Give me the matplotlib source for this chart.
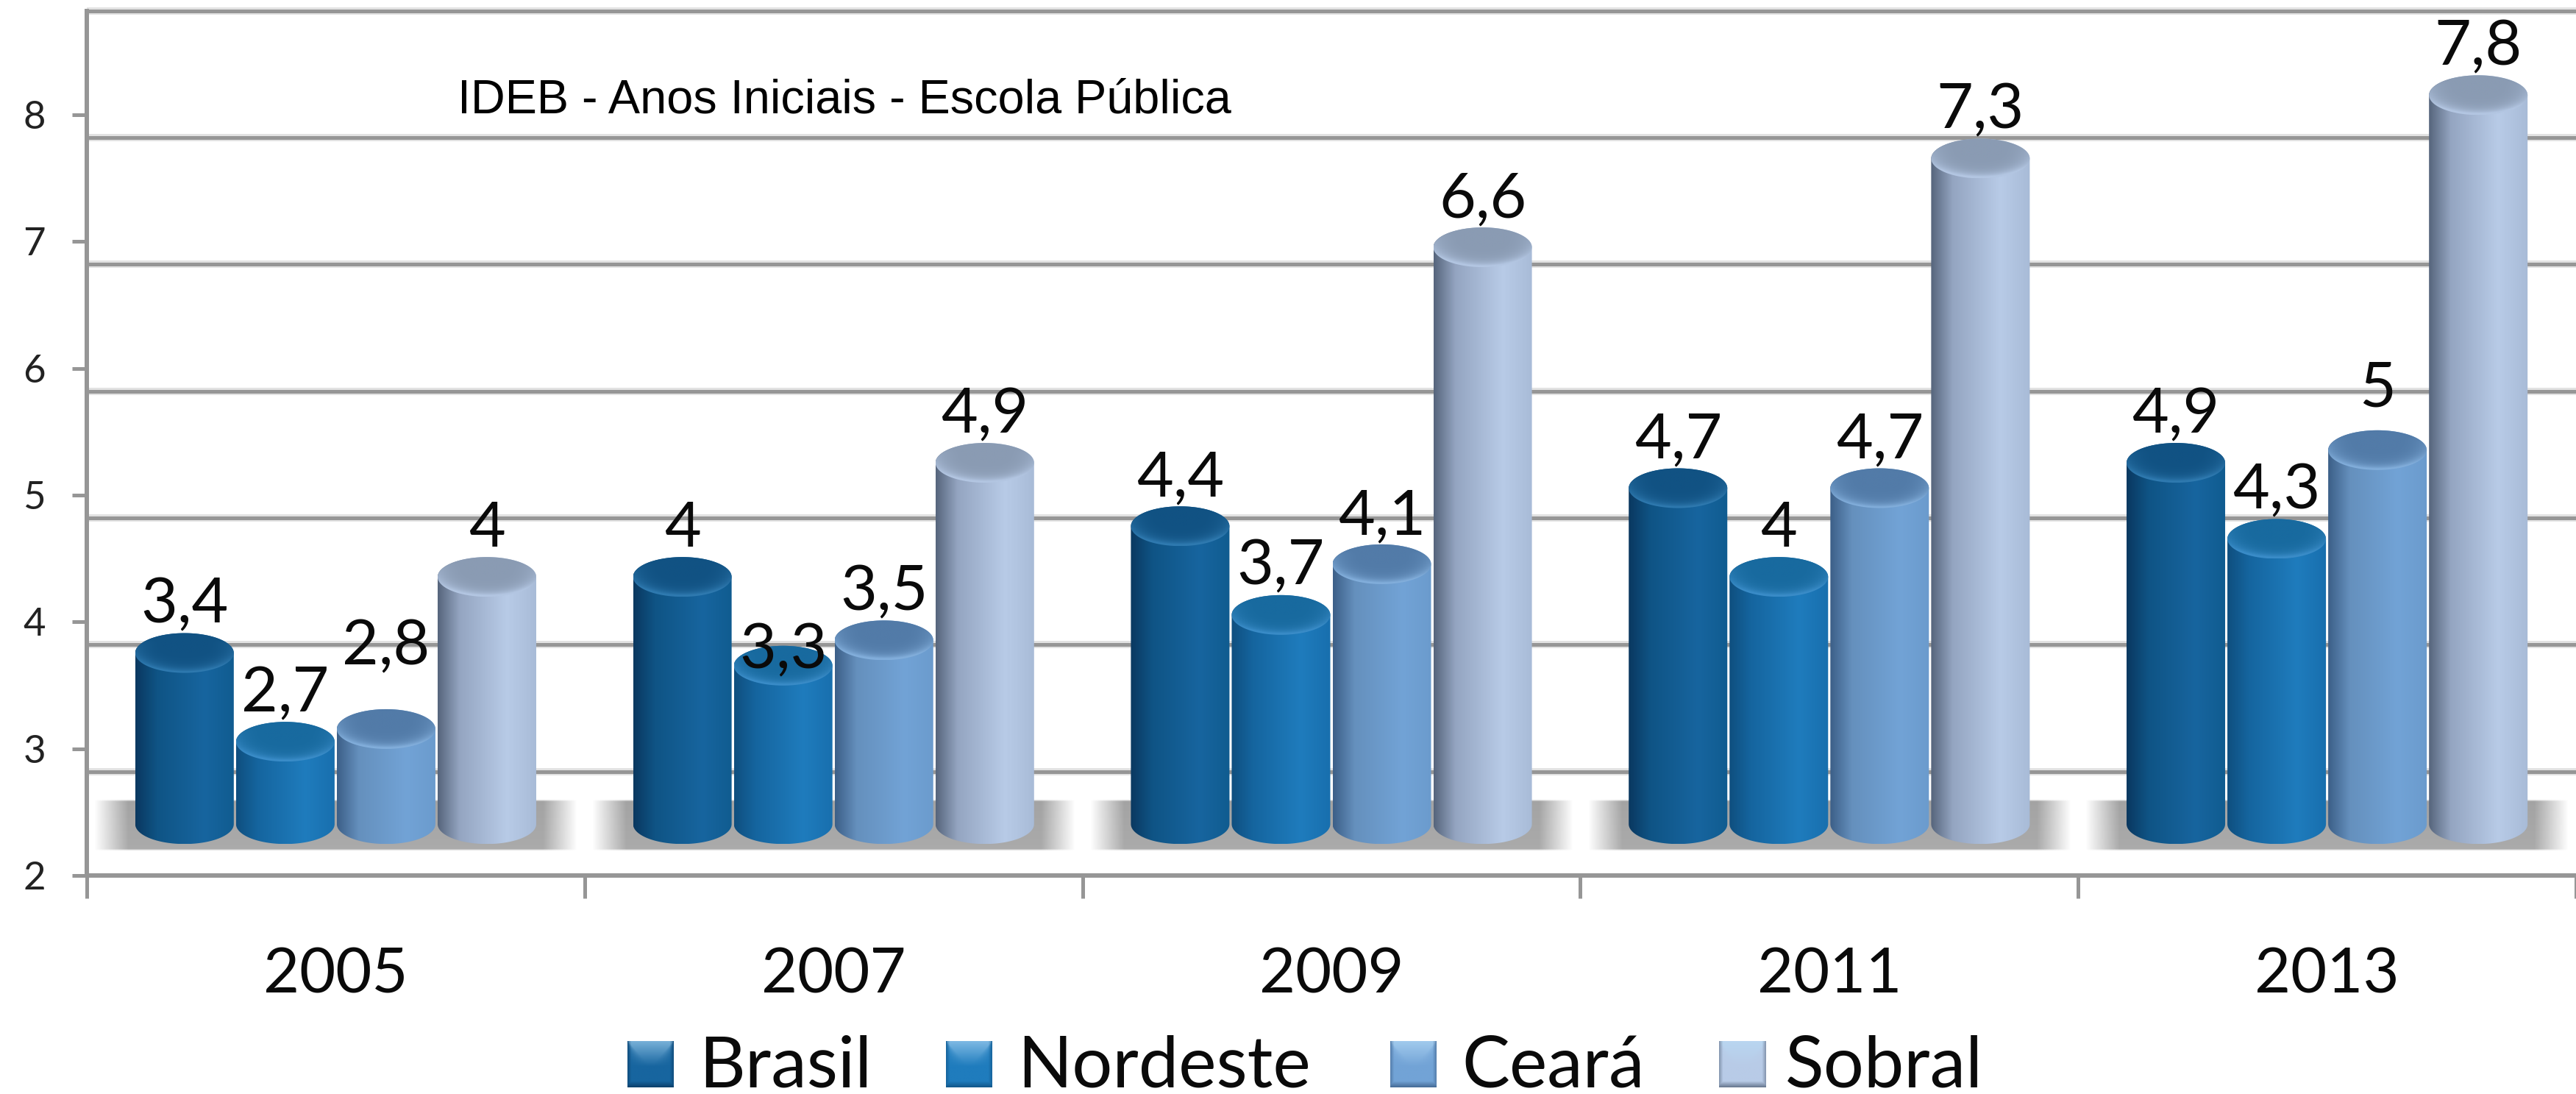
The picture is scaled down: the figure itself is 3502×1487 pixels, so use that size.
import numpy as np
import matplotlib
matplotlib.use("Agg")
import matplotlib.pyplot as plt
from matplotlib.colors import LinearSegmentedColormap, to_rgb
from matplotlib.path import Path

plt.rcParams["font.family"] = ["Lato", "DejaVu Sans"]

# dados
anos = ["2005", "2007", "2009", "2011", "2013"]
series = ["Brasil", "Nordeste", "Ceará", "Sobral"]
brasil = [3.4, 4, 4.4, 4.7, 4.9]
nordeste = [2.7, 3.3, 3.7, 4, 4.3]
ceara = [2.8, 3.5, 4.1, 4.7, 5]
sobral = [4, 4.9, 6.6, 7.3, 7.8]
valores = [brasil, nordeste, ceara, sobral]
titulo = "IDEB - Anos Iniciais - Escola Pública"

W, H = 3502, 1487
PX_UNIT = 172.3  # pixels por unidade do eixo y
Y_TOP = 8 + 156 / PX_UNIT

# deslocamentos do efeito 3D, em unidades do eixo
GRID_SHIFT = -0.18
BAR_SHIFT = 0.355
BASE_LEVEL = 2.405
RY = 27 / PX_UNIT
PITCH = 0.2025
BAR_W = 0.198
GRID_COLOR = "#969696"

# cores: corpo (esquerda -> direita) e tampa (centro -> borda)
corpo = [
    ["#0a3860", "#0f5485", "#17659f", "#105c90"],
    ["#0f4f7f", "#15659f", "#1f7cbd", "#186fae"],
    ["#3c5f88", "#6590bd", "#72a3d6", "#6b9bcd"],
    ["#56657c", "#94a5c1", "#b8cbe7", "#a8bbd7"],
]
tampa = [
    ["#115283", "#2f7ab0"],
    ["#186a9f", "#3a8cc8"],
    ["#527ba8", "#82aedb"],
    ["#8a9bb3", "#b3c6e2"],
]
# ajustes dos rótulos que não ficam na posição padrão (em pixels)
ajuste_rotulo = {(2, 0): 47, (1, 1): -45, (2, 4): 18}


def px(n):
    return n * 0.72


def draw_cylinder(ax, x, v, i):
    left, right = x - BAR_W / 2, x + BAR_W / 2
    top, base = v + BAR_SHIFT, BASE_LEVEL
    t = np.linspace(0, np.pi, 60)
    xs = x + BAR_W / 2 * np.cos(t)
    poly = np.vstack([
        np.column_stack([xs, top + RY * np.sin(t)]),
        np.column_stack([xs[::-1], base - RY * np.sin(t)]),
    ])
    outline = Path(np.vstack([poly, poly[:1]]), closed=True)
    cmap = LinearSegmentedColormap.from_list("c", list(zip([0, 0.22, 0.7, 1], corpo[i])))
    grad = np.linspace(0, 1, 256).reshape(1, -1)
    im = ax.imshow(grad, cmap=cmap, extent=(left, right, base - RY, top + RY),
                   aspect="auto", zorder=3 + i * 0.1, interpolation="bilinear")
    im.set_clip_path(outline, ax.transData)

    # tampa do cilindro
    nx, ny = np.meshgrid(np.linspace(-1, 1, 200), np.linspace(-1, 1, 100))
    r = np.hypot(nx, ny)
    val = np.clip(r ** 4 * (0.55 - 0.65 * ny) + 0.1 * (-ny), 0, 1)
    cap_cmap = LinearSegmentedColormap.from_list("t", tampa[i])
    ang = np.linspace(0, 2 * np.pi, 100)
    cap_pts = np.column_stack([x + BAR_W / 2 * np.cos(ang), top + RY * np.sin(ang)])
    cap = ax.imshow(val, cmap=cap_cmap, vmin=0, vmax=1, origin="lower",
                    extent=(left, right, top - RY, top + RY), aspect="auto",
                    zorder=3.05 + i * 0.1, interpolation="bilinear")
    cap.set_clip_path(Path(cap_pts, closed=False), ax.transData)


def draw_floor(ax, x):
    half = 0.485
    hh, ww = 70, 660
    u = np.linspace(0, 1, ww)
    alpha_x = np.clip(np.minimum(u, 1 - u) / 0.07, 0, 1)
    alpha_y = np.clip(np.minimum(np.arange(hh), hh - 1 - np.arange(hh)) / 3.0, 0, 1)
    img = np.zeros((hh, ww, 4))
    grey = np.linspace(0.64, 0.67, hh)[:, None]
    img[..., 0] = img[..., 1] = img[..., 2] = grey
    img[..., 3] = np.outer(alpha_y, alpha_x)
    ax.imshow(img, extent=(x - half, x + half, 2.19, 2.6), aspect="auto", zorder=2)


def draw_swatch(fig, left, top, size, i):
    n = 62
    rows, cols = np.mgrid[0:n, 0:n]
    rows = rows / (n - 1)
    cols = cols / (n - 1)
    base = np.array(to_rgb(corpo[i][2]))
    light = np.array(to_rgb(tampa[i][1])) * 0.5 + 0.5 * np.array([0.75, 0.9, 1.0])
    dark = np.array(to_rgb(corpo[i][0]))
    img = np.ones((n, n, 3)) * base
    v_shape = np.clip(1 - rows / 0.55, 0, 1)
    v_shape = v_shape * np.clip((0.5 - np.abs(cols - 0.5)) / np.maximum(0.5 * rows / 0.55, 0.02), 0, 1)
    img = img + (light - base) * v_shape[..., None]
    edge = np.clip((rows - 0.87) / 0.13, 0, 1) * 0.8
    side = np.clip((np.abs(cols - 0.5) - 0.42) / 0.08, 0, 1) * 0.5
    shade = np.maximum(edge, side)
    img = img + (dark - img) * shade[..., None]
    sw = fig.add_axes([left / W, 1 - (top + size) / H, size / W, size / H])
    sw.imshow(np.clip(img, 0, 1), aspect="auto", interpolation="bilinear")
    sw.axis("off")


fig = plt.figure(figsize=(W / 100, H / 100), dpi=100, facecolor="white")
ax = fig.add_axes([118 / W, (H - 1190) / H, 1 - 118 / W, 1190 / H])

grid_levels = np.arange(3, 10) + GRID_SHIFT
ax.hlines(grid_levels, -0.5, 4.5, color="#e2e2e2", lw=px(10), zorder=1)
ax.hlines(grid_levels, -0.5, 4.5, color=GRID_COLOR, lw=px(5), zorder=1.1)

x_pos = np.arange(len(anos))
for x in x_pos:
    draw_floor(ax, x)

for i, nome in enumerate(series):
    for j, v in enumerate(valores[i]):
        x = j + (i - 1.5) * PITCH
        draw_cylinder(ax, x, v, i)
        dy = 41 + ajuste_rotulo.get((i, j), 0)
        ax.annotate(f"{v:g}".replace(".", ","), (x, v + BAR_SHIFT), xytext=(0, px(dy)),
                    textcoords="offset points", ha="center", va="baseline",
                    fontsize=62, color="#0a0a0a", zorder=10, annotation_clip=False)

ax.set_xlim(-0.5, 4.5)
ax.set_ylim(2, Y_TOP)

ax.set_yticks(range(2, 9))
ax.set_xticks(np.arange(-0.5, 5, 1))
ax.set_xticklabels([])
ax.set_xticks(x_pos, anos, minor=True)
ax.tick_params(axis="y", length=px(20), width=px(5), color=GRID_COLOR, pad=px(36),
               labelsize=38, labelcolor="#222222")
ax.tick_params(axis="x", which="major", length=px(31), width=px(5), color=GRID_COLOR)
ax.tick_params(axis="x", which="minor", length=0, pad=px(96), labelsize=61, labelcolor="#0a0a0a")

for s in ["top", "right"]:
    ax.spines[s].set_visible(False)
for s in ["left", "bottom"]:
    ax.spines[s].set_color(GRID_COLOR)
    ax.spines[s].set_linewidth(px(6))
ax.spines["left"].set_bounds(2, 9 + GRID_SHIFT)

fig.text(622 / W, 1 - 154 / H, titulo, family="Liberation Sans", fontsize=46.6,
         color="black", ha="left", va="baseline")

# legenda
sw_x = [853, 1286, 1890, 2337]
tx_x = [950, 1383, 1987, 2427]
for i, nome in enumerate(series):
    draw_swatch(fig, sw_x[i], 1415, 63, i)
    fig.text(tx_x[i] / W, 1 - 1477 / H, nome, fontsize=70, color="#0a0a0a",
             ha="left", va="baseline")

fig.savefig("out.png", dpi=100, facecolor="white")
